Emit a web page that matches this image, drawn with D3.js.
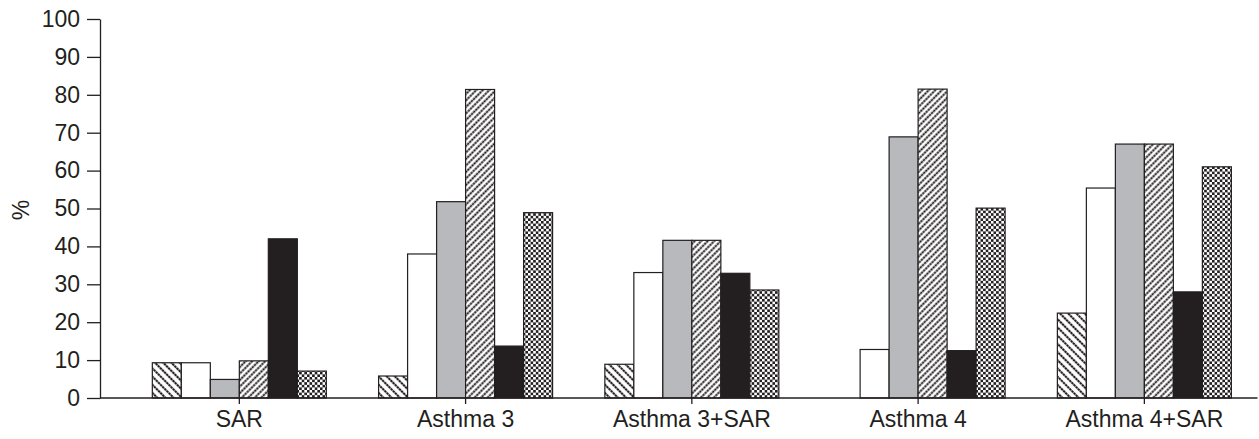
<!DOCTYPE html>
<html>
<head>
<meta charset="utf-8">
<script src="https://cdn.jsdelivr.net/npm/d3@7"></script>
<style>
  html, body { margin: 0; padding: 0; background: #fff; }
  svg { display: block; }
  text { font-family: "Liberation Sans", Arial, Helvetica, sans-serif; fill: #231f20; }
</style>
</head>
<body>
<svg id="chart" width="1259" height="439"></svg>
<script>
// Groups along the x axis
const categories = ["SAR", "Asthma 3", "Asthma 3+SAR", "Asthma 4", "Asthma 4+SAR"];
// Six series per group, drawn left to right
const seriesKeys = ["s1", "s2", "s3", "s4", "s5", "s6"];
const s1 = [9.3, 5.8, 8.9, 0, 22.4];
const s2 = [9.3, 38.0, 33.1, 12.8, 55.4];
const s3 = [4.9, 51.8, 41.6, 68.9, 67.0];
const s4 = [9.8, 81.4, 41.6, 81.5, 67.0];
const s5 = [42.0, 13.7, 32.9, 12.5, 28.0];
const s6 = [7.1, 48.9, 28.5, 50.1, 61.0];
const seriesValues = [s1, s2, s3, s4, s5, s6];
const yTicks = [0, 10, 20, 30, 40, 50, 60, 70, 80, 90, 100];

const ink = "#231f20";
const svg = d3.select("#chart");
const defs = svg.append("defs");

// Diagonal hatch made of short dashes
function hatch(id, angle, period, width) {
  const p = defs.append("pattern")
    .attr("id", id)
    .attr("patternUnits", "userSpaceOnUse")
    .attr("width", period)
    .attr("height", 6)
    .attr("patternTransform", `rotate(${angle})`);
  p.append("rect").attr("width", period).attr("height", 6).attr("fill", "#fff");
  p.append("line")
    .attr("x1", period / 2).attr("x2", period / 2)
    .attr("y1", 0).attr("y2", 6)
    .attr("stroke", ink)
    .attr("stroke-width", width)
    .attr("stroke-dasharray", "2.4 0.6");
}
hatch("p-back", -45, 5.8, 2.1);
hatch("p-fwd", 45, 4.6, 1.9);

// Small checkerboard
const cell = 2.6;
const chk = defs.append("pattern")
  .attr("id", "p-check")
  .attr("patternUnits", "userSpaceOnUse")
  .attr("width", cell * 2).attr("height", cell * 2);
chk.append("rect").attr("width", cell * 2).attr("height", cell * 2).attr("fill", "#fff");
chk.append("rect").attr("width", cell).attr("height", cell).attr("fill", ink);
chk.append("rect").attr("x", cell).attr("y", cell).attr("width", cell).attr("height", cell).attr("fill", ink);

const fills = ["url(#p-back)", "#ffffff", "#b8b9bc", "url(#p-fwd)", ink, "url(#p-check)"];

const y = d3.scaleLinear().domain([0, 100]).range([398, 19]);
const x = d3.scaleBand().domain(categories).range([126.2, 1257.5]).padding(0);
const xs = d3.scaleBand().domain(seriesKeys).range([-87, 87]).padding(0);

// Bars
const groups = svg.append("g").selectAll("g")
  .data(categories)
  .join("g")
  .attr("transform", d => `translate(${x(d) + x.bandwidth() / 2},0)`);

groups.selectAll("rect")
  .data((c, ci) => seriesKeys.map((k, si) => ({ k, si, v: seriesValues[si][ci] })).filter(d => d.v > 0))
  .join("rect")
  .attr("x", d => xs(d.k))
  .attr("width", xs.bandwidth())
  .attr("y", d => y(d.v))
  .attr("height", d => y(0) - y(d.v))
  .attr("fill", d => fills[d.si])
  .attr("stroke", ink)
  .attr("stroke-width", 1.2);

// Y axis
const yAxis = svg.append("g")
  .attr("transform", "translate(100,0)")
  .call(d3.axisLeft(y).tickValues(yTicks).tickSizeInner(13).tickSizeOuter(0).tickPadding(7));
yAxis.select(".domain").attr("stroke", ink).attr("stroke-width", 1.3);
yAxis.selectAll(".tick line").attr("stroke", ink).attr("stroke-width", 1.3);
yAxis.selectAll("text").style("font-size", "23px").attr("fill", ink);

// X axis
const xAxis = svg.append("g")
  .attr("transform", "translate(0,398)")
  .call(d3.axisBottom(x).tickSizeInner(6).tickSizeOuter(0).tickPadding(7));
xAxis.select(".domain").attr("d", "M100,0H1257.5").attr("stroke", ink).attr("stroke-width", 1.3);
xAxis.selectAll(".tick line").attr("stroke", ink).attr("stroke-width", 1.3);
xAxis.selectAll("text").style("font-size", "23px").attr("fill", ink);

// Y axis title
svg.append("text")
  .attr("transform", "translate(29,210) rotate(-90)")
  .attr("text-anchor", "middle")
  .style("font-size", "23px")
  .text("%");
</script>
</body>
</html>
